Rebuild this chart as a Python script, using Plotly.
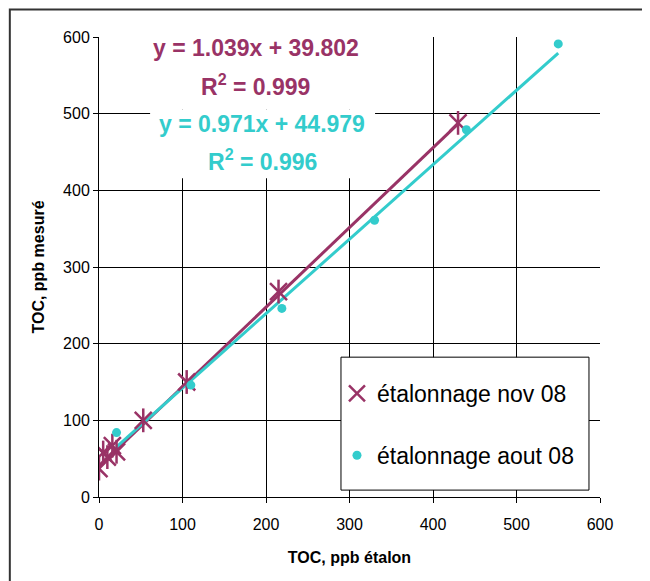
import plotly.graph_objects as go

# calibration series
nov_x = [0, 5, 10, 16, 21, 53, 105, 215, 430]
nov_y = [37, 58, 52, 67, 59, 100, 150, 268, 488]
aout_x = [21, 110, 219, 330, 440, 550]
aout_y = [84, 146, 246, 361, 479, 591]

# trendline coefficients (from the chart labels)
nov_fit = (1.039, 39.802, 0.999)
aout_fit = (0.971, 44.979, 0.996)

PURPLE = "#993366"
CYAN = "#33CCCC"


def fit_line(xs, coef):
    x0, x1 = min(xs), max(xs)
    return [x0, x1], [coef[0] * x0 + coef[1], coef[0] * x1 + coef[1]]


fig = go.Figure()

lx, ly = fit_line(nov_x, nov_fit)
fig.add_trace(go.Scatter(x=lx, y=ly, mode="lines", line=dict(color=PURPLE, width=3),
                         showlegend=False, hoverinfo="skip"))
lx, ly = fit_line(aout_x, aout_fit)
fig.add_trace(go.Scatter(x=lx, y=ly, mode="lines", line=dict(color=CYAN, width=3),
                         showlegend=False, hoverinfo="skip"))

fig.add_trace(go.Scatter(
    x=nov_x, y=nov_y, mode="markers", name="étalonnage nov 08", legendgroup="nov",
    marker=dict(symbol="x-thin-open", size=17, color=PURPLE, line=dict(color=PURPLE, width=2.5)),
))
fig.add_trace(go.Scatter(
    x=nov_x, y=nov_y, mode="markers", showlegend=False, legendgroup="nov",
    marker=dict(symbol="line-ns-open", size=17, color=PURPLE, line=dict(color=PURPLE, width=2.5)),
))
fig.add_trace(go.Scatter(
    x=aout_x, y=aout_y, mode="markers", name="étalonnage aout 08", legendgroup="aout",
    marker=dict(symbol="circle", size=9, color=CYAN),
))

axis_common = dict(
    range=[0, 600], dtick=100, showgrid=True, gridcolor="#000000", gridwidth=1,
    showline=True, linecolor="#000000", linewidth=1, zeroline=False,
    ticks="outside", ticklen=5, tickcolor="#000000",
    tickfont=dict(family="Liberation Sans, Arial", size=16, color="#000000"),
)
title_font = dict(family="Liberation Sans, Arial", size=16, color="#000000")

fig.update_xaxes(**axis_common, ticklabelstandoff=8,
                 title=dict(text="<b>TOC, ppb étalon</b>", standoff=19, font=title_font))
fig.update_yaxes(**axis_common,
                 title=dict(text="<b>TOC, ppb mesuré</b>", standoff=14, font=title_font))

shapes = [
    # figure frame
    dict(type="rect", xref="paper", yref="paper", x0=-0.178, x1=1.2, y0=-0.3, y1=1.06,
         line=dict(color="#333333", width=2), fillcolor="rgba(0,0,0,0)"),
    # white boxes behind equations
    dict(type="rect", xref="paper", yref="paper", x0=0.092, x1=0.541, y0=0.843, y1=1.02,
         line=dict(width=0), fillcolor="white", layer="above"),
    dict(type="rect", xref="paper", yref="paper", x0=0.102, x1=0.551, y0=0.693, y1=0.843,
         line=dict(width=0), fillcolor="white", layer="above"),
    # legend box
    dict(type="rect", xref="paper", yref="paper", x0=0.483, x1=0.978, y0=0.015, y1=0.304,
         line=dict(color="#000000", width=1), fillcolor="white", layer="above"),
]

eq_font = dict(family="Liberation Sans, Arial", size=23)
annotations = [
    dict(text="<b>y = %.3fx + %.3f</b>" % nov_fit[:2], x=0.313, y=0.976,
         font=dict(color=PURPLE, **eq_font)),
    dict(text="<b>R<sup>2</sup> = %.3f</b>" % nov_fit[2], x=0.313, y=0.896,
         font=dict(color=PURPLE, **eq_font)),
    dict(text="<b>y = %.3fx + %.3f</b>" % aout_fit[:2], x=0.326, y=0.811,
         font=dict(color=CYAN, **eq_font)),
    dict(text="<b>R<sup>2</sup> = %.3f</b>" % aout_fit[2], x=0.326, y=0.733,
         font=dict(color=CYAN, **eq_font)),
]
for a in annotations:
    a.update(xref="paper", yref="paper", showarrow=False, xanchor="center", yanchor="middle")

fig.update_layout(
    width=650, height=581,
    margin=dict(l=91, r=58, t=29, b=92),
    plot_bgcolor="white", paper_bgcolor="white",
    shapes=shapes, annotations=annotations,
    legend=dict(
        x=0.475, y=0.272, xanchor="left", yanchor="top",
        bgcolor="rgba(0,0,0,0)", borderwidth=0, tracegroupgap=29,
        font=dict(family="Liberation Sans, Arial", size=23, color="#000000"),
    ),
    showlegend=True,
)

fig.write_html("out.html")
